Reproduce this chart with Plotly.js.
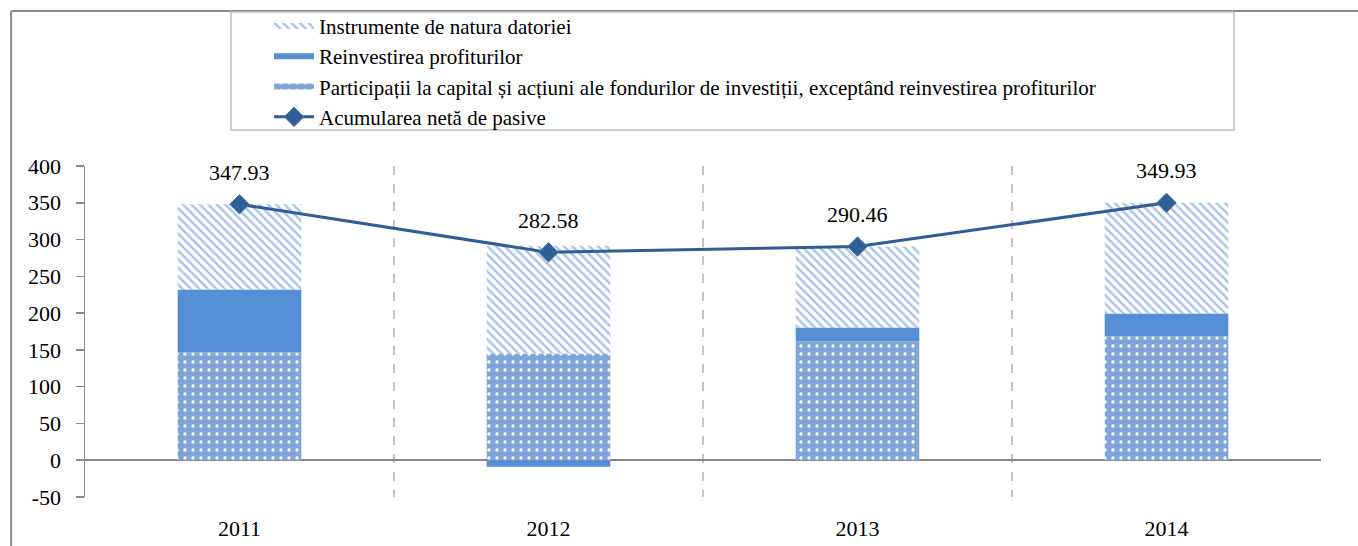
<!DOCTYPE html>
<html>
<head>
<meta charset="utf-8">
<script src="https://cdn.plot.ly/plotly-3.0.1.min.js"></script>
<style>
  html, body { margin: 0; padding: 0; background: #fff; }
  #chart { width: 1358px; height: 546px; }
</style>
</head>
<body>
<div id="chart"></div>
<script>
const years = ['2011', '2012', '2013', '2014'];
const participatii = [146.5, 145.0, 161.5, 168.4];
const reinvestire = [85.5, -9.0, 19.0, 31.1];
const datorie = [115.93, 146.58, 109.96, 150.43];
const acumulare = [347.93, 282.58, 290.46, 349.93];
const acumulareLabels = ['347.93', '282.58', '290.46', '349.93'];
const yTickVals = [-50, 0, 50, 100, 150, 200, 250, 300, 350, 400];
const yTickText = ['-50', '0', '50', '100', '150', '200', '250', '300', '350', '400'];

const names = {
  datorie: 'Instrumente de natura datoriei',
  reinvestire: 'Reinvestirea profiturilor',
  participatii: 'Participații la capital și acțiuni ale fondurilor de investiții, exceptând reinvestirea profiturilor',
  acumulare: 'Acumularea netă de pasive'
};

const FONT = 'Liberation Serif, Times New Roman, serif';
const FS = 22;
const LFS = 21;

const partPattern = { shape: '.', bgcolor: '#7fa4da', fgcolor: '#ffffff', size: 8, solidity: 0.14, fillmode: 'replace' };
const debtPattern = { shape: '\\', bgcolor: '#ffffff', fgcolor: '#a7c3ea', size: 6, solidity: 0.4, fillmode: 'replace' };

const traces = [
  {
    type: 'bar', x: years, y: participatii, name: names.participatii, showlegend: false,
    width: 0.4, marker: { color: '#7fa4da', line: { width: 0 }, pattern: partPattern }, hoverinfo: 'y'
  },
  {
    type: 'bar', x: years, y: reinvestire, name: names.reinvestire, showlegend: false,
    width: 0.4, marker: { color: '#558ed5', line: { width: 0 } }, hoverinfo: 'y'
  },
  {
    type: 'bar', x: years, y: datorie, name: names.datorie, showlegend: false,
    width: 0.4, marker: { color: '#ffffff', line: { width: 0 }, pattern: debtPattern }, hoverinfo: 'y'
  },
  {
    type: 'scatter', mode: 'lines+markers', x: years, y: acumulare, name: names.acumulare, legendrank: 4,
    line: { color: '#2f5d94', width: 3 },
    marker: { symbol: 'diamond', size: 15, color: '#305e96', line: { color: '#4a78b0', width: 1 } },
    hoverinfo: 'y'
  },
  // legend-only swatches (no data)
  {
    type: 'scatter', mode: 'none', x: [null], y: [null], fill: 'toself', name: names.datorie, legendrank: 1,
    fillcolor: '#ffffff', fillpattern: debtPattern, hoverinfo: 'skip'
  },
  {
    type: 'scatter', mode: 'none', x: [null], y: [null], fill: 'toself', name: names.reinvestire, legendrank: 2,
    fillcolor: '#558ed5', hoverinfo: 'skip'
  },
  {
    type: 'scatter', mode: 'none', x: [null], y: [null], fill: 'toself', name: names.participatii, legendrank: 3,
    fillcolor: '#7fa4da', fillpattern: partPattern, hoverinfo: 'skip'
  }
];

const annotations = years.map((yr, i) => ({
  x: i, y: acumulare[i], xref: 'x', yref: 'y',
  text: acumulareLabels[i], showarrow: false,
  yshift: 32, font: { family: FONT, size: FS, color: '#000' }
}));

const fx = -0.0598, fyTop = 1.468;
const shapes = [
  { type: 'line', xref: 'paper', yref: 'paper', x0: fx, x1: fx, y0: fyTop, y1: -0.2, line: { color: '#8c8c8c', width: 2 } },
  { type: 'line', xref: 'paper', yref: 'paper', x0: fx, x1: 1.1, y0: fyTop, y1: fyTop, line: { color: '#8c8c8c', width: 2 } },
  { type: 'rect', xref: 'paper', yref: 'paper', x0: 0.1181, x1: 0.9296, y0: 1.1088, y1: 1.4653, line: { color: '#c0c0c0', width: 1.5 }, fillcolor: 'rgba(0,0,0,0)' }
];

const layout = {
  width: 1358, height: 546,
  margin: { l: 85, r: 37, t: 166, b: 49, autoexpand: false },
  paper_bgcolor: '#ffffff', plot_bgcolor: '#ffffff',
  barmode: 'relative',
  font: { family: FONT, size: FS, color: '#000' },
  showlegend: true,
  legend: {
    x: 0.1489, y: 1.484, xanchor: 'left', yanchor: 'top',
    borderwidth: 0, bgcolor: 'rgba(0,0,0,0)',
    font: { family: FONT, size: LFS, color: '#000' },
    traceorder: 'normal', tracegroupgap: 0, itemwidth: 40
  },
  xaxis: {
    type: 'category', range: [-0.5, 3.5],
    tickson: 'boundaries', ticks: '', showline: false,
    showgrid: true, griddash: 'dash', gridcolor: '#c3c3c3', gridwidth: 1.5,
    tickfont: { family: FONT, size: FS, color: '#000' },
    ticklabelstandoff: 16,
    zeroline: false, fixedrange: true
  },
  yaxis: {
    range: [-50, 400], tickmode: 'array', tickvals: yTickVals, ticktext: yTickText,
    showline: true, linecolor: '#8c8c8c', linewidth: 1.5,
    ticks: 'outside', ticklen: 8, tickcolor: '#8c8c8c', tickwidth: 1.5,
    ticklabelstandoff: 10,
    showgrid: false,
    zeroline: true, zerolinecolor: '#878787', zerolinewidth: 2.5,
    tickfont: { family: FONT, size: FS, color: '#000' },
    fixedrange: true
  },
  annotations: annotations,
  shapes: shapes
};

Plotly.newPlot('chart', traces, layout, { displayModeBar: false, staticPlot: true });
</script>
</body>
</html>
